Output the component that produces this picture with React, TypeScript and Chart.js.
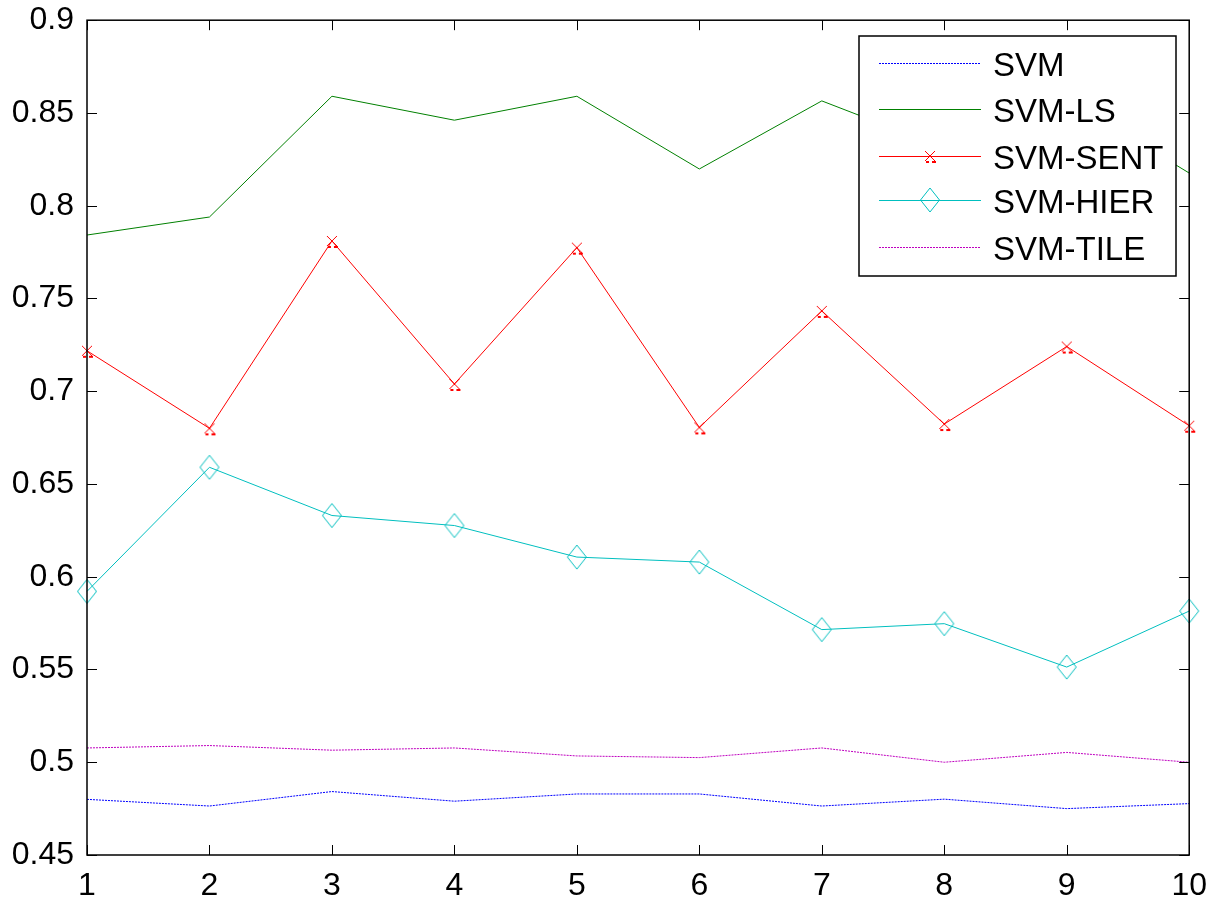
import React, { useEffect, useRef } from 'react';
import { Chart, registerables } from 'chart.js';

Chart.register(...registerables);

// ---- data ----
const categories = ['1', '2', '3', '4', '5', '6', '7', '8', '9', '10'];
const seriesNames = ['SVM', 'SVM-LS', 'SVM-SENT', 'SVM-HIER', 'SVM-TILE'];
const svm = [0.480, 0.4764, 0.4842, 0.479, 0.4829, 0.4829, 0.4764, 0.4801, 0.4750, 0.4777];
const svmLs = [0.7842, 0.7939, 0.8590, 0.8461, 0.8590, 0.8198, 0.8565, 0.8310, 0.8577, 0.8176];
const svmSent = [0.7218, 0.6800, 0.7810, 0.7039, 0.7774, 0.6805, 0.7433, 0.6823, 0.7241, 0.6814];
const svmHier = [0.5921, 0.6590, 0.6330, 0.6276, 0.6106, 0.6079, 0.5715, 0.5747, 0.5513, 0.5815];
const svmTile = [0.5077, 0.5090, 0.5065, 0.5077, 0.5034, 0.5025, 0.5077, 0.5000, 0.5053, 0.5000];
const yMin = 0.45;
const yMax = 0.9;
const yStep = 0.05;

const FONT = '"Liberation Sans", Arial, sans-serif';
const SHIFT_Y = 12; // canvas is shifted up this much
const EXTRA_W = 7;

function makeCross(): HTMLCanvasElement {
  const c = document.createElement('canvas');
  c.width = 24;
  c.height = 24;
  const g = c.getContext('2d')!;
  g.strokeStyle = '#ff0000';
  g.lineWidth = 1;
  g.beginPath();
  g.moveTo(7, 7);
  g.lineTo(17, 17);
  g.moveTo(17, 7);
  g.lineTo(7, 17);
  g.stroke();
  g.fillStyle = '#ff0000';
  g.fillRect(8, 17, 3, 2);
  g.fillRect(14, 17, 4, 2);
  return c;
}

function makeDiamond(): HTMLCanvasElement {
  const c = document.createElement('canvas');
  c.width = 24;
  c.height = 28;
  const g = c.getContext('2d')!;
  g.strokeStyle = '#00bfbf';
  g.lineWidth = 1;
  g.beginPath();
  g.moveTo(12, 2);
  g.lineTo(21.5, 14);
  g.lineTo(12, 26);
  g.lineTo(2.5, 14);
  g.closePath();
  g.stroke();
  return c;
}

export default function App() {
  const ref = useRef<HTMLCanvasElement | null>(null);

  useEffect(() => {
    document.body.style.margin = '0';
    const canvas = ref.current;
    if (!canvas) return;
    const cross = makeCross();
    const diamond = makeDiamond();

    const colors = ['#0000ff', '#008000', '#ff0000', '#00bfbf', '#bf00bf'];
    const values = [svm, svmLs, svmSent, svmHier, svmTile];
    const styles: any[] = [false, false, cross, diamond, false];
    const dashes = [[2, 1], [], [], [], [2, 1]];

    const boxPlugin = {
      id: 'matlabBox',
      afterDatasetsDraw(chart: any) {
        const { ctx, chartArea } = chart;
        const { left, right, top, bottom } = chartArea;
        const xs = chart.scales.x;
        const ys = chart.scales.y;
        ctx.save();
        ctx.strokeStyle = '#000';
        ctx.lineWidth = 1.5;
        ctx.strokeRect(left, top, right - left, bottom - top);
        ctx.lineWidth = 1;
        const tl = 10;
        ctx.beginPath();
        xs.ticks.forEach((_t: any, i: number) => {
          const px = Math.round(xs.getPixelForTick(i)) + 0.5;
          ctx.moveTo(px, bottom);
          ctx.lineTo(px, bottom - tl);
          ctx.moveTo(px, top);
          ctx.lineTo(px, top + tl);
        });
        ys.ticks.forEach((t: any) => {
          const py = Math.round(ys.getPixelForValue(t.value)) + 0.5;
          ctx.moveTo(left, py);
          ctx.lineTo(left + tl, py);
          ctx.moveTo(right, py);
          ctx.lineTo(right - tl, py);
        });
        ctx.stroke();

        // legend box (page coords, converted to canvas coords)
        const lx = 859, ly = 36 + SHIFT_Y, lw = 317, lh = 240;
        ctx.fillStyle = '#fff';
        ctx.fillRect(lx, ly, lw, lh);
        ctx.strokeStyle = '#000';
        ctx.lineWidth = 1.5;
        ctx.strokeRect(lx, ly, lw, lh);
        const rows = [63, 109, 156, 200, 247];
        chart.data.datasets.forEach((ds: any, i: number) => {
          const y = rows[i] + SHIFT_Y;
          ctx.save();
          ctx.strokeStyle = ds.borderColor;
          ctx.lineWidth = 1;
          ctx.setLineDash(ds.borderDash || []);
          ctx.beginPath();
          ctx.moveTo(879, y + 0.5);
          ctx.lineTo(981, y + 0.5);
          ctx.stroke();
          ctx.restore();
          if (ds.pointStyle && typeof ds.pointStyle !== 'string') {
            const im = ds.pointStyle as HTMLCanvasElement;
            ctx.drawImage(im, 930 - im.width / 2, y - im.height / 2);
          }
          ctx.fillStyle = '#000';
          ctx.font = `33px ${FONT}`;
          ctx.textBaseline = 'middle';
          ctx.textAlign = 'left';
          ctx.fillText(ds.label, 993, y + 4);
        });
        ctx.restore();
      },
    };

    const chart = new Chart(canvas, {
      type: 'line',
      data: {
        labels: categories,
        datasets: seriesNames.map((name, i) => ({
          label: name,
          data: values[i],
          borderColor: colors[i],
          backgroundColor: colors[i],
          borderWidth: 1,
          borderDash: dashes[i],
          pointStyle: styles[i],
          pointRadius: styles[i] ? 10 : 0,
          pointHoverRadius: styles[i] ? 10 : 0,
          fill: false,
          tension: 0,
          clip: false as any,
        })),
      },
      options: {
        responsive: false,
        animation: false,
        events: [],
        layout: { padding: { left: 0, top: 8, right: 15, bottom: 0 } },
        plugins: {
          legend: { display: false },
          tooltip: { enabled: false },
        },
        scales: {
          x: {
            type: 'category',
            offset: false,
            grid: { display: false, drawTicks: false },
            border: { display: false },
            ticks: {
              color: '#000',
              font: { family: FONT, size: 32 },
              padding: 12,
              maxRotation: 0,
              autoSkip: false,
            },
            afterFit: (s: any) => {
              s.height = 45;
            },
          },
          y: {
            min: yMin,
            max: yMax,
            grid: { display: false, drawTicks: false },
            border: { display: false },
            ticks: {
              stepSize: yStep,
              color: '#000',
              font: { family: FONT, size: 32 },
              padding: 13,
              callback: (v: any) => String(Number(Number(v).toFixed(2))),
            },
            afterFit: (s: any) => {
              s.width = 87;
            },
          },
        },
      },
      plugins: [boxPlugin],
    });

    return () => chart.destroy();
  }, []);

  return (
    <div style={{ width: 1212, height: 900, background: '#fff', overflow: 'hidden', position: 'relative' }}>
      <canvas
        ref={ref}
        width={1212 + EXTRA_W}
        height={900 + SHIFT_Y}
        style={{ display: 'block', position: 'absolute', left: 0, top: -SHIFT_Y }}
      />
    </div>
  );
}
